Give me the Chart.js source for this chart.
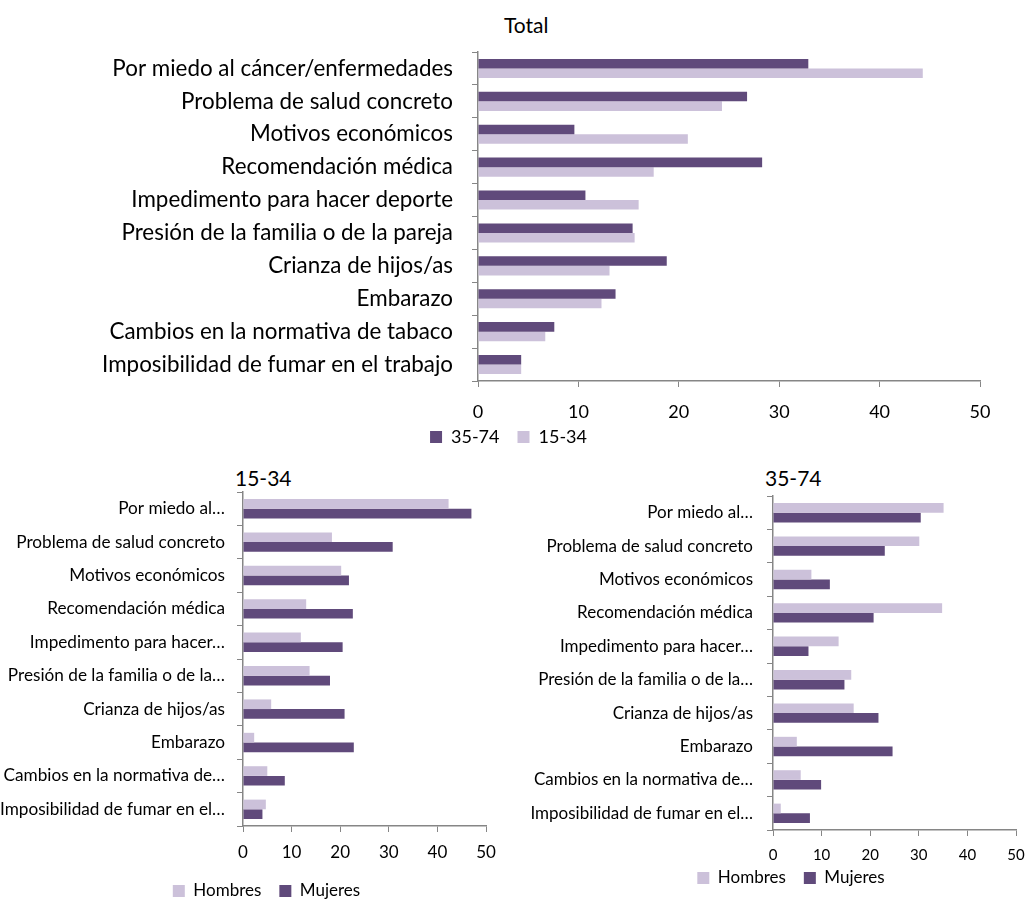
<!DOCTYPE html>
<html>
<head>
<meta charset="utf-8">
<script src="https://cdn.jsdelivr.net/npm/chart.js@4.4.1/dist/chart.umd.min.js"></script>
<style>
  body { margin: 0; background: #fff; overflow: hidden; width: 1027px; height: 900px; position: relative; font-family: Lato, sans-serif; }
  .box { position: absolute; }
  .title { position: absolute; color: #000; font-family: Lato, sans-serif; white-space: nowrap; }
</style>
</head>
<body>
<div class="title" style="left:504px; top:12px; font-size:21px;">Total</div>
<div class="title" style="left:235px; top:465px; font-size:21px;">15-34</div>
<div class="title" style="left:765px; top:465px; font-size:21px;">35-74</div>

<div class="box" style="left:0; top:0; width:1050px; height:473px;"><canvas id="chartTotal"></canvas></div>
<div class="box" style="left:0; top:462px; width:533px; height:449px;"><canvas id="chartYoung"></canvas></div>
<div class="box" style="left:520px; top:462px; width:522px; height:451px;"><canvas id="chartOld"></canvas></div>

<script>
// ===== DATA =====
const categories = [
  "Por miedo al cáncer/enfermedades",
  "Problema de salud concreto",
  "Motivos económicos",
  "Recomendación médica",
  "Impedimento para hacer deporte",
  "Presión de la familia o de la pareja",
  "Crianza de hijos/as",
  "Embarazo",
  "Cambios en la normativa de tabaco",
  "Imposibilidad de fumar en el trabajo"
];
const shortCategories = [
  "Por miedo al…",
  "Problema de salud concreto",
  "Motivos económicos",
  "Recomendación médica",
  "Impedimento para hacer…",
  "Presión de la familia o de la…",
  "Crianza de hijos/as",
  "Embarazo",
  "Cambios en la normativa de…",
  "Imposibilidad de fumar en el…"
];

const total3574 = [32.9, 26.8, 9.6, 28.3, 10.7, 15.4, 18.8, 13.7, 7.6, 4.3];
const total1534 = [44.3, 24.3, 20.9, 17.5, 16.0, 15.6, 13.1, 12.3, 6.7, 4.3];

const young_hombres = [42.3, 18.3, 20.2, 13.0, 11.9, 13.7, 5.8, 2.3, 5.0, 4.7];
const young_mujeres = [47.0, 30.8, 21.8, 22.6, 20.5, 17.9, 20.9, 22.8, 8.6, 4.0];

const old_hombres = [35.1, 30.1, 7.9, 34.8, 13.5, 16.1, 16.6, 4.9, 5.7, 1.6];
const old_mujeres = [30.4, 23.0, 11.7, 20.7, 7.3, 14.7, 21.7, 24.6, 9.9, 7.6];

const xTicks = [0, 10, 20, 30, 40, 50];

const DARK  = "#604A7B";
const LIGHT = "#CCC1DA";
const AXIS  = "#868686";

// moves the legend after layout (keeps the axis labels unclipped)
const shiftLegend = {
  id: "shiftLegend",
  afterLayout(chart, args, opts) {
    const l = chart.legend;
    if (!l) return;
    l.top += opts.dy || 0;
    l.bottom += opts.dy || 0;
    l.left += opts.dx || 0;
    l.right += opts.dx || 0;
  }
};

// ===== CHART BUILDER =====
function makeChart(id, labels, sets, o) {
  return new Chart(document.getElementById(id), {
    type: "bar",
    plugins: [shiftLegend],
    data: {
      labels: labels,
      datasets: sets.map(s => ({
        label: s.label,
        data: s.data,
        backgroundColor: s.color,
        borderWidth: 0,
        categoryPercentage: o.catPct,
        barPercentage: 1
      }))
    },
    options: {
      indexAxis: "y",
      responsive: true,
      maintainAspectRatio: false,
      animation: false,
      layout: { padding: { top: o.padTop, right: o.padRight, left: 0, bottom: 0 } },
      plugins: {
        shiftLegend: { dx: o.legendDx, dy: o.legendDy },
        legend: {
          position: "bottom",
          labels: {
            color: "#000",
            font: { family: "Lato", size: o.legendSize },
            boxWidth: o.box,
            boxHeight: o.box,
            padding: o.legendPad
          }
        },
        tooltip: { enabled: false }
      },
      scales: {
        x: {
          min: 0, max: 50,
          afterBuildTicks: s => { s.ticks = xTicks.map(v => ({ value: v })); },
          afterFit: s => { s.height = o.xHeight; },
          grid: { drawOnChartArea: false, drawTicks: true, tickLength: 6, color: AXIS },
          border: { color: AXIS, width: 1.5 },
          ticks: { color: "#000", padding: o.xPad, maxRotation: 0, font: { family: "Lato", size: o.tickSize } }
        },
        y: {
          afterFit: s => { s.width = o.yWidth; },
          grid: { drawOnChartArea: false, drawTicks: true, tickLength: 6, color: AXIS, offset: true },
          border: { color: AXIS, width: 1.5 },
          ticks: { color: "#000", padding: o.yPad, autoSkip: false, font: { family: "Lato", size: o.labelSize } }
        }
      }
    }
  });
}

makeChart("chartTotal", categories, [
  { label: "35-74", data: total3574, color: DARK },
  { label: "15-34", data: total1534, color: LIGHT }
], { catPct: 0.58, padTop: 52, padRight: 70, legendSize: 18, box: 12, legendPad: 18, legendDx: 18.5, legendDy: -17,
     xHeight: 46, xPad: 14, tickSize: 18, yWidth: 478, yPad: 19, labelSize: 22.4 });

makeChart("chartYoung", shortCategories, [
  { label: "Hombres", data: young_hombres, color: LIGHT },
  { label: "Mujeres", data: young_mujeres, color: DARK }
], { catPct: 0.58, padTop: 30, padRight: 47, legendSize: 17, box: 12, legendPad: 18, legendDx: 23.5, legendDy: -1.5,
     xHeight: 40, xPad: 10, tickSize: 17, yWidth: 243, yPad: 12, labelSize: 17.2 });

makeChart("chartOld", shortCategories, [
  { label: "Hombres", data: old_hombres, color: LIGHT },
  { label: "Mujeres", data: old_mujeres, color: DARK }
], { catPct: 0.58, padTop: 34, padRight: 26, legendSize: 17, box: 12, legendPad: 18, legendDx: 23, legendDy: -16.5,
     xHeight: 38, xPad: 10, tickSize: 15, yWidth: 253, yPad: 14, labelSize: 17 });
</script>
</body>
</html>
